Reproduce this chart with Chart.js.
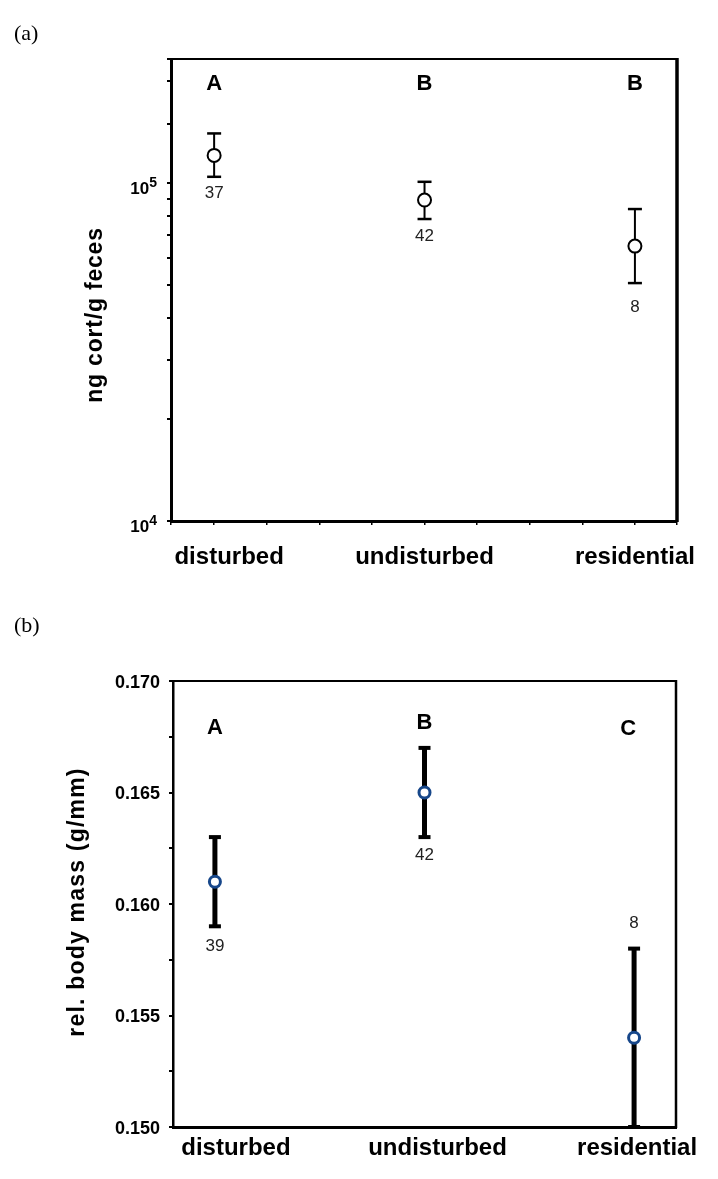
<!DOCTYPE html>
<html>
<head>
<meta charset="utf-8">
<script src="https://cdn.jsdelivr.net/npm/chart.js@4.4.1/dist/chart.umd.min.js"></script>
<style>
  body { margin: 0; background: #fff; }
  #wrap { position: relative; width: 718px; height: 1179px; background: #fff; }
  canvas { position: absolute; left: 0; }
  .panel { position: absolute; font-family: "Liberation Serif", "Times New Roman", serif; font-size: 22px; line-height: 24px; color: #000; }
</style>
</head>
<body>
<div id="wrap">
  <canvas id="cortChart" width="718" height="595" style="top:0"></canvas>
  <canvas id="massChart" width="718" height="584" style="top:595px"></canvas>
  <div class="panel" style="left:14px;top:21px">(a)</div>
  <div class="panel" style="left:14px;top:613px">(b)</div>
</div>
<script>
// shared categories
const categories = ["disturbed", "undisturbed", "residential"];
const catX = [1, 5, 9];

// panel (a): faecal corticosterone
const cortMean = [120800, 89100, 65100];
const cortLow = [104400, 78300, 50600];
const cortHigh = [140300, 100900, 83800];
const cortN = [37, 42, 8];
const cortGroups = ["A", "B", "B"];
const cortTickValues = [10000, 100000];

// panel (b): relative body mass
const massMean = [0.161, 0.165, 0.154];
const massLow = [0.159, 0.163, 0.150];
const massHigh = [0.163, 0.167, 0.158];
const massN = [39, 42, 8];
const massGroups = ["A", "B", "C"];

const SANS = "'Liberation Sans', Arial, sans-serif";

// error bars go under the markers
const errorBars = {
  id: "errorBars",
  beforeDatasetsDraw(chart, args, o) {
    const ctx = chart.ctx, xs = chart.scales.x, ys = chart.scales.y;
    ctx.save();
    ctx.strokeStyle = "#000";
    o.low.forEach((lo, i) => {
      const x = xs.getPixelForValue(catX[i]);
      const y1 = ys.getPixelForValue(lo);
      const y2 = ys.getPixelForValue(o.high[i]);
      ctx.lineWidth = o.barWidth;
      ctx.beginPath(); ctx.moveTo(x, y1); ctx.lineTo(x, y2); ctx.stroke();
      ctx.lineWidth = o.capWidth;
      [y1, y2].forEach((y) => {
        ctx.beginPath(); ctx.moveTo(x - o.capHalf, y); ctx.lineTo(x + o.capHalf, y); ctx.stroke();
      });
    });
    ctx.restore();
  },
};

// frame, group letters, sample sizes, category names, y title
const figureText = {
  id: "figureText",
  afterDraw(chart, args, o) {
    const { ctx, chartArea: a } = chart;
    const xs = chart.scales.x, ys = chart.scales.y;
    ctx.save();
    ctx.strokeStyle = "#000";
    ctx.lineWidth = o.topWidth;
    ctx.beginPath(); ctx.moveTo(a.left, a.top); ctx.lineTo(a.right + 1, a.top); ctx.stroke();
    ctx.lineWidth = o.rightWidth;
    ctx.beginPath(); ctx.moveTo(a.right, a.top - 1); ctx.lineTo(a.right, a.bottom + 1); ctx.stroke();

    ctx.textAlign = "center";
    ctx.textBaseline = "middle";
    ctx.fillStyle = "#000";
    ctx.font = "bold 22px " + SANS;
    o.groups.forEach((g, i) => {
      ctx.fillText(g, xs.getPixelForValue(catX[i]) + o.groupDx[i], o.groupY[i]);
    });

    ctx.fillStyle = "#222";
    ctx.font = "17px " + SANS;
    o.counts.forEach((n, i) => {
      const ref = o.countAt[i] === "high" ? o.high[i] : o.low[i];
      ctx.fillText(String(n), xs.getPixelForValue(catX[i]), ys.getPixelForValue(ref) + o.countDy[i]);
    });

    ctx.fillStyle = "#000";
    ctx.font = "bold 24px " + SANS;
    categories.forEach((c, i) => {
      ctx.fillText(c, xs.getPixelForValue(catX[i]) + o.labelDx[i], o.labelY);
    });

    if (o.powers) {
      o.powers.forEach((v) => {
        const y = ys.getPixelForValue(v);
        const exp = String(Math.round(Math.log10(v)));
        ctx.textAlign = "right";
        ctx.font = "bold 14px " + SANS;
        ctx.fillText(exp, 157, y);
        const w = ctx.measureText(exp).width;
        ctx.font = "bold 17px " + SANS;
        ctx.fillText("10", 157 - w, y + 6);
      });
    }

    ctx.translate(o.titleX, o.titleY);
    ctx.rotate(-Math.PI / 2);
    ctx.textAlign = "center";
    ctx.font = "bold 23px " + SANS;
    ctx.letterSpacing = o.titleSpacing;
    ctx.fillText(o.title, 0, 0);
    ctx.restore();
  },
};

function points(means) {
  return means.map((m, i) => ({ x: catX[i], y: m }));
}

new Chart(document.getElementById("cortChart"), {
  type: "scatter",
  data: {
    datasets: [{
      data: points(cortMean),
      pointRadius: 6.5,
      pointBorderWidth: 2,
      pointBackgroundColor: "#fff",
      pointBorderColor: "#000",
    }],
  },
  options: {
    responsive: false,
    animation: false,
    layout: { padding: { left: 0, top: 59, right: 41, bottom: 0 } },
    scales: {
      x: {
        type: "linear", min: 0.18, max: 9.8,
        afterFit: (s) => { s.height = 74; },
        ticks: { display: false, stepSize: 1 },
        grid: { drawOnChartArea: false, drawTicks: true, tickLength: 4, color: "#000", lineWidth: 1.5 },
        border: { color: "#000", width: 3 },
      },
      y: {
        type: "logarithmic", min: 10000, max: 233000,
        afterFit: (s) => { s.width = 171; },
        ticks: { display: false, autoSkip: false },
        grid: { drawOnChartArea: false, drawTicks: true, tickLength: 4, color: "#000", lineWidth: 2 },
        border: { color: "#000", width: 3 },
      },
    },
    plugins: {
      legend: { display: false },
      tooltip: { enabled: false },
      errorBars: { low: cortLow, high: cortHigh, barWidth: 2, capWidth: 2.5, capHalf: 7 },
      figureText: {
        groups: cortGroups, groupDx: [0, 0, 0], groupY: [84, 84, 84],
        counts: cortN, countAt: ["low", "low", "low"], countDy: [17, 17, 24],
        low: cortLow, high: cortHigh,
        labelDx: [15, 0, 0], labelY: 557,
        powers: cortTickValues,
        title: "ng cort/g feces", titleX: 96, titleY: 315, titleSpacing: "0.8px",
        topWidth: 2, rightWidth: 3.5,
      },
    },
  },
  plugins: [errorBars, figureText],
});

new Chart(document.getElementById("massChart"), {
  type: "scatter",
  data: {
    datasets: [{
      data: points(massMean),
      pointRadius: 5.5,
      pointBorderWidth: 3,
      pointBackgroundColor: "#fff",
      pointBorderColor: "#17478a",
    }],
  },
  options: {
    responsive: false,
    animation: false,
    layout: { padding: { left: 0, top: 86, right: 42, bottom: 0 } },
    scales: {
      x: {
        type: "linear", min: 0.2, max: 9.8,
        afterFit: (s) => { s.height = 52; },
        ticks: { display: false },
        grid: { display: false },
        border: { color: "#000", width: 3 },
      },
      y: {
        type: "linear", min: 0.15, max: 0.17,
        afterFit: (s) => { s.width = 173; },
        ticks: {
          stepSize: 0.0025,
          padding: 9,
          labelOffset: 2,
          color: "#000",
          font: { family: SANS, size: 18, weight: "bold" },
          callback: (v) => {
            const k = Math.round(v * 1000);
            return Math.abs(v * 1000 - k) < 1e-6 && k % 5 === 0 ? v.toFixed(3) : "";
          },
        },
        grid: { drawOnChartArea: false, drawTicks: true, tickLength: 4, color: "#000", lineWidth: 2 },
        border: { color: "#000", width: 2.5 },
      },
    },
    plugins: {
      legend: { display: false },
      tooltip: { enabled: false },
      errorBars: { low: massLow, high: massHigh, barWidth: 5, capWidth: 4, capHalf: 6 },
      figureText: {
        groups: massGroups, groupDx: [0, 0, -6], groupY: [133, 128, 134],
        counts: massN, countAt: ["low", "low", "high"], countDy: [20, 18, -25],
        low: massLow, high: massHigh,
        labelDx: [21, 13, 3], labelY: 553,
        powers: null,
        title: "rel. body mass (g/mm)", titleX: 78, titleY: 307, titleSpacing: "1.2px",
        topWidth: 2, rightWidth: 2.5,
      },
    },
  },
  plugins: [errorBars, figureText],
});
</script>
</body>
</html>
